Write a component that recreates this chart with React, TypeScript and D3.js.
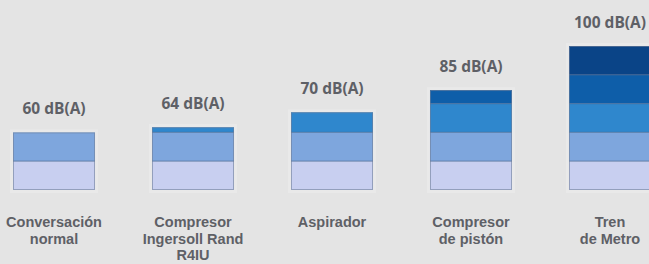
import React from "react";
import * as d3 from "d3";

const categories = ["Conversación normal", "Compresor Ingersoll Rand R4IU", "Aspirador", "Compresor de pistón", "Tren de Metro"];
const categoryLines = [["Conversación", "normal"], ["Compresor", "Ingersoll Rand", "R4IU"], ["Aspirador"], ["Compresor", "de pistón"], ["Tren", "de Metro"]];
const dbValues = [60, 64, 70, 85, 100];
const barLevels = [2.0, 2.18, 2.7, 3.47, 5.0];
const segmentColors = ["#c8cff0", "#7ea6dd", "#2f87cd", "#0e5ea9", "#0a4487"];

const W = 649;
const H = 264;

export default function App() {
  const x = d3.scaleBand<string>().domain(categories).range([13, 651]).paddingInner(0.41).paddingOuter(0);
  const y = d3.scaleLinear().domain([0, 5]).range([190, 46]);
  const bw = x.bandwidth();
  const textColor = "#5e6066";
  const font = "'Open Sans', sans-serif";
  const catFont = "'Liberation Sans', Arial, sans-serif";

  return (
    <svg width={W} height={H} style={{ position: "fixed", left: 0, top: 0, display: "block" }}>
      <rect x={0} y={0} width={W} height={H} fill="#e4e4e4" />
      {categories.map((c, bi) => {
        const x0 = x(c)!;
        const level = barLevels[bi];
        const nSeg = Math.ceil(level - 1e-9);
        const segs = d3.range(nSeg).map((i) => ({ i, lo: i, hi: Math.min(i + 1, level) }));
        const cx = x0 + bw / 2;
        return (
          <g key={c}>
            <rect x={x0 - 3} y={y(level) - 3} width={bw + 6} height={y(0) - y(level) + 6} fill="#ececec" opacity={0.6} />
            {segs.map((s) => (
              <rect key={s.i} x={x0} y={y(s.hi)} width={bw} height={y(s.lo) - y(s.hi)} fill={segmentColors[s.i]} />
            ))}
            {segs.slice(1).map((s) => (
              <line key={"l" + s.i} x1={x0} x2={x0 + bw} y1={y(s.lo)} y2={y(s.lo)} stroke="#4f6a94" strokeOpacity={0.55} strokeWidth={1.2} />
            ))}
            <rect x={x0 + 0.5} y={y(level) + 0.5} width={bw - 1} height={y(0) - y(level) - 1} fill="none" stroke="#6f7f99" strokeOpacity={0.6} strokeWidth={1} />
            <text x={cx} y={y(level) - 18} textAnchor="middle" fontFamily={font} fontWeight={700} fontSize={15.5} fill={textColor}>
              {dbValues[bi]} dB(A)
            </text>
            {categoryLines[bi].map((ln, li) => (
              <text key={li} x={cx} y={227 + li * 16.7} textAnchor="middle" fontFamily={catFont} fontWeight={700} fontSize={14.5} fill={textColor}>
                {ln}
              </text>
            ))}
          </g>
        );
      })}
    </svg>
  );
}
